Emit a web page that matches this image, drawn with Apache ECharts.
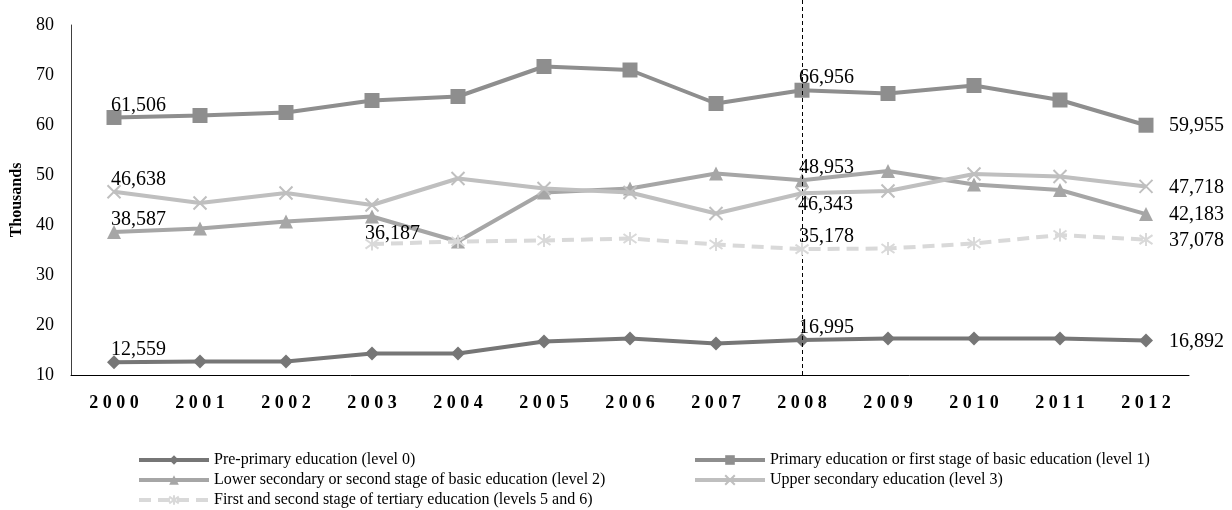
<!DOCTYPE html>
<html><head><meta charset="utf-8">
<script src="https://cdn.jsdelivr.net/npm/echarts@6/dist/echarts.min.js"></script>
<style>html,body{margin:0;padding:0;background:#fff}#c{width:1232px;height:510px}</style>
</head><body><div id="c"></div>
<script>
const years = ['2000','2001','2002','2003','2004','2005','2006','2007','2008','2009','2010','2011','2012'];
const yTicks = [10,20,30,40,50,60,70,80];
const names = [
  'Pre-primary education (level 0)',
  'Primary education or first stage of basic education (level 1)',
  'Lower secondary or second stage of basic education (level 2)',
  'Upper secondary education (level 3)',
  'First and second stage of tertiary education (levels 5 and 6)'
];
const prePrimary = [12.559,12.7,12.7,14.3,14.3,16.7,17.3,16.3,16.995,17.3,17.3,17.3,16.892];
const primary    = [61.506,61.9,62.5,64.9,65.7,71.7,71.0,64.3,66.956,66.3,67.9,65.0,59.955];
const lowerSec   = [38.587,39.3,40.7,41.7,36.7,46.5,47.3,50.3,48.953,50.8,48.1,47.0,42.183];
const upperSec   = [46.638,44.4,46.4,44.0,49.3,47.3,46.5,42.3,46.343,46.8,50.2,49.7,47.718];
const tertiary   = [null,null,null,36.187,36.7,36.9,37.3,36.1,35.178,35.3,36.3,38.0,37.078];
const markYear = '2008';

const serif = 'Liberation Serif, Times New Roman, serif';
const colors = ['#767676','#8e8e8e','#a6a6a6','#bfbfbf','#d9d9d9'];
const fmt = v => Math.round(v*1000).toLocaleString('en-US');

function lbl(kind){
  const base = {show:true, position:'inside', fontFamily:serif, fontSize:20, color:'#000', formatter: p => fmt(p.value)};
  if(kind==='up') return Object.assign(base,{align:'left', verticalAlign:'middle', offset:[-3,-12]});
  if(kind==='up2') return Object.assign(base,{align:'left', verticalAlign:'middle', offset:[-7,-10]});
  if(kind==='down') return Object.assign(base,{align:'left', verticalAlign:'middle', offset:[-4,11]});
  return Object.assign(base,{align:'left', verticalAlign:'middle', offset:[23,1]});
}
function build(arr, first, midKind){
  return arr.map((v,i)=>{
    if(v==null) return null;
    if(i===first) return {value:v, label: lbl(first===0?'up':'up2')};
    if(i===8) return {value:v, label: lbl(midKind)};
    if(i===arr.length-1) return {value:v, label: lbl('right')};
    return v;
  });
}
const xPath = 'path://M0,0L10,10M10,0L0,10';
const starPath = 'path://M5,0L5,10M0,1.5L10,8.5M10,1.5L0,8.5';
function mk(idx, arr, first, midKind, symbol, size, dashed, stroke){
  const c = colors[idx];
  return {
    name: names[idx], type:'line', data: build(arr, first, midKind),
    symbol, symbolSize:size, showSymbol:true,
    lineStyle:{color:c, width:4, type: dashed ? [12,7] : 'solid'},
    itemStyle: stroke ? {color:'none', borderColor:c, borderWidth:2} : {color:c},
    label:{show:false}, emphasis:{disabled:true}, z: 2+idx
  };
}
const series = [
  mk(0, prePrimary, 0, 'up', 'diamond', 14, false, false),
  mk(1, primary, 0, 'up', 'rect', 15, false, false),
  mk(2, lowerSec, 0, 'up', 'triangle', 14, false, false),
  mk(3, upperSec, 0, 'down', xPath, 13, false, true),
  mk(4, tertiary, 3, 'up', starPath, 13, true, true),
  {type:'line', xAxisIndex:1, yAxisIndex:1, data:[], silent:true,
   markLine:{silent:true, symbol:'none', label:{show:false}, animation:false,
     lineStyle:{color:'#000', width:1, type:[4,3]}, data:[{xAxis:markYear}]}}
];
const legendCommon = {orient:'vertical', top:452, height:60, padding:0, itemWidth:70, itemHeight:12, itemGap:4,
  lineStyle:{width:4}, textStyle:{fontFamily:serif, fontSize:16, color:'#000'}};
const chart = echarts.init(document.getElementById('c'));
chart.setOption({
  animation:false,
  backgroundColor:'#fff',
  grid:[{left:71, right:43, top:25, bottom:135, outerBoundsMode:'none', containLabel:false},
        {left:71, right:43, top:0, bottom:135, outerBoundsMode:'none', containLabel:false}],
  xAxis:[{type:'category', data:years, boundaryGap:true,
    axisLine:{lineStyle:{color:'#000', width:1}}, axisTick:{show:false},
    axisLabel:{fontFamily:serif, fontWeight:'bold', fontSize:18, color:'#000', margin:19,
      formatter: v => v.split('').join(' ')}},
    {type:'category', data:years, gridIndex:1, show:false}],
  yAxis:[{type:'value', min:yTicks[0], max:yTicks[yTicks.length-1], interval:10,
    name:'Thousands', nameLocation:'middle', nameGap:40, nameRotate:90,
    nameTextStyle:{fontFamily:serif, fontWeight:'bold', fontSize:16, color:'#000'},
    axisLine:{show:true, lineStyle:{color:'#404040', width:1}}, axisTick:{show:false},
    splitLine:{show:false},
    axisLabel:{fontFamily:serif, fontSize:18, color:'#000', margin:17}},
    {type:'value', gridIndex:1, min:0, max:1, show:false}],
  legend:[
    Object.assign({data:[names[0],names[2],names[4]], left:137}, legendCommon),
    Object.assign({data:[names[1],names[3]], left:693}, legendCommon)
  ],
  series
});
</script></body></html>
